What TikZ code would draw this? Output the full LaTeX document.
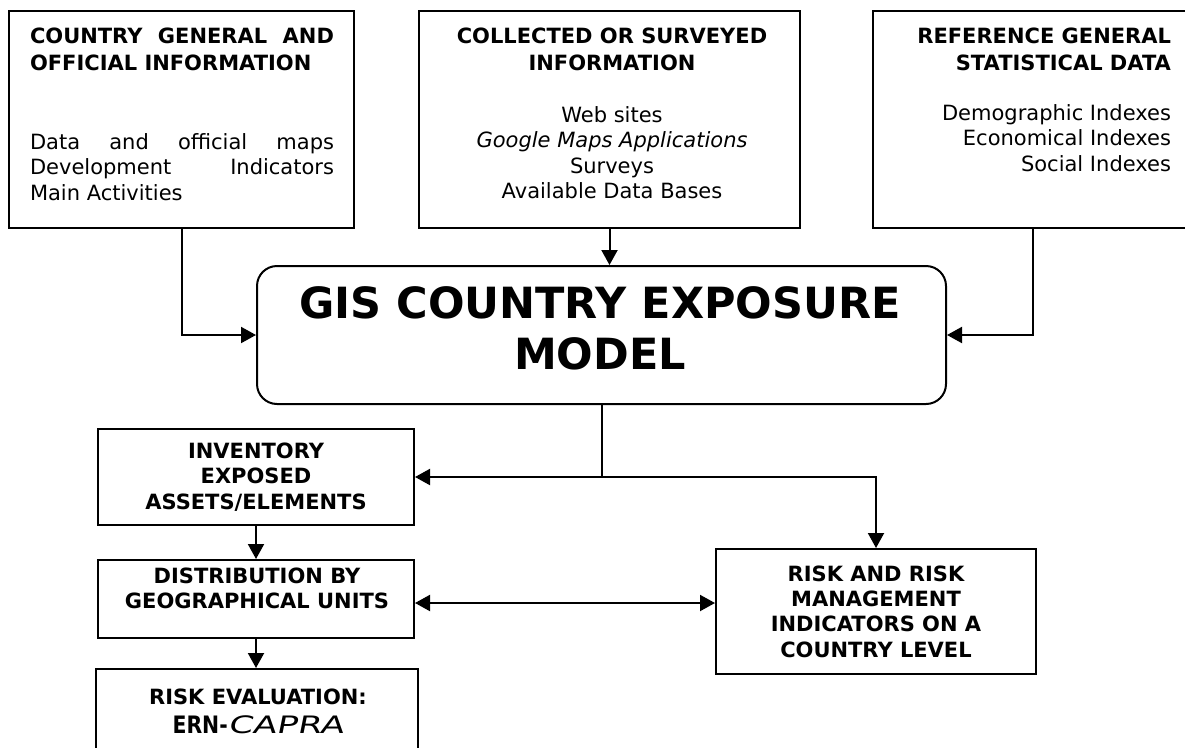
\documentclass[tikz,border=0pt]{standalone}
\usepackage{fontspec}
\setmainfont{DejaVu Sans}
\newfontfamily\ernfont[FakeStretch=0.85]{DejaVu Sans}
\newfontfamily\caprafont[FakeStretch=1.45,FakeSlant=0.2]{DejaVu Sans}
\usetikzlibrary{arrows.meta}

\begin{document}
\begin{tikzpicture}[x=1pt,y=-1pt,>={Triangle[length=15pt,width=16pt]},line width=2pt,
  box/.style={draw,inner sep=0pt},
  txt/.style={inner sep=0pt,font=\fontsize{21}{25.5}\selectfont},
  head/.style={inner sep=0pt,font=\bfseries\fontsize{21}{25.3}\selectfont}]
 \useasboundingbox (0,0) rectangle (1185,747);
 \node[box,minimum width=345pt,minimum height=217pt] (cgi) at (181.5,119.5) {};
 \node[box,minimum width=381pt,minimum height=217pt] (col) at (609.5,119.5) {};
 \node[box,minimum width=320pt,minimum height=217pt] (ref) at (1033,119.5) {};
 \node[box,rounded corners=20pt,minimum width=689pt,minimum height=138pt] (gis) at (601.5,335) {};
 \node[box,head,align=center,minimum width=316pt,minimum height=96pt] (inv) at (256,477) {INVENTORY\\EXPOSED\\ASSETS/ELEMENTS};
 \node[box,minimum width=316pt,minimum height=78pt] (dist) at (256,599) {};
 \node[box,minimum width=322pt,minimum height=101pt] (eval) at (257,719.5) {};
 \node[box,head,align=center,minimum width=320pt,minimum height=125pt] (ind) at (876,611.5) {RISK AND RISK\\MANAGEMENT\\INDICATORS ON A\\COUNTRY LEVEL};
 \node[txt,anchor=north west,align=left] (cgitxt) at (29,26.7) {\textbf{\makebox[304pt][s]{COUNTRY GENERAL AND}}\\[1.5pt]
   \textbf{OFFICIAL INFORMATION}\\[53.5pt]
   \makebox[304pt][s]{Data and official maps}\\ \makebox[304pt][s]{Development Indicators}\\ Main Activities};
 \node[txt,anchor=north,align=center] (coltxt) at (612,26.7) {\textbf{COLLECTED OR SURVEYED}\\[1.5pt] \textbf{INFORMATION}\\[26.5pt]
   Web sites\\ \textit{Google Maps Applications}\\ Surveys\\ Available Data Bases};
 \node[txt,anchor=north east,align=right] (reftxt) at (1172,26.7) {\textbf{REFERENCE GENERAL}\\[1.5pt] \textbf{STATISTICAL DATA}\\[24.5pt]
   Demographic Indexes\\ Economical Indexes\\ Social Indexes};
 \node[inner sep=0pt,anchor=north,align=center,font=\bfseries\fontsize{43}{51}\selectfont] (gistxt) at (600,286) {GIS COUNTRY EXPOSURE\\MODEL};
 \node[head,anchor=north,align=center] (disttxt) at (257,566.7) {DISTRIBUTION BY\\GEOGRAPHICAL UNITS};
 \node[head,anchor=north,align=center] (evaltxt) at (258,687.7) {RISK EVALUATION:\\[4pt]
   {\fontsize{24}{25.5}\ernfont\bfseries ERN-}{\fontsize{24}{25.5}\caprafont\mdseries CAPRA}};
 \draw[->] (cgi.south) |- (gis.west);
 \draw[->] (col.south) -- (col.south |- gis.north);
 \draw[->] (ref.south) |- (gis.east);
 \coordinate (split) at (gis.south |- inv.east);
 \draw (gis.south) -- (split);
 \draw[->] (split) -- (inv.east);
 \draw[->] (split) -| (ind.north);
 \draw[->] (inv.south) -- (dist.north);
 \draw[->] (dist.south) -- (dist.south |- eval.north);
 \draw[<->] ([yshift=-4pt]dist.east) -- ([yshift=-4pt]dist.east -| ind.west);
\end{tikzpicture}
\end{document}
